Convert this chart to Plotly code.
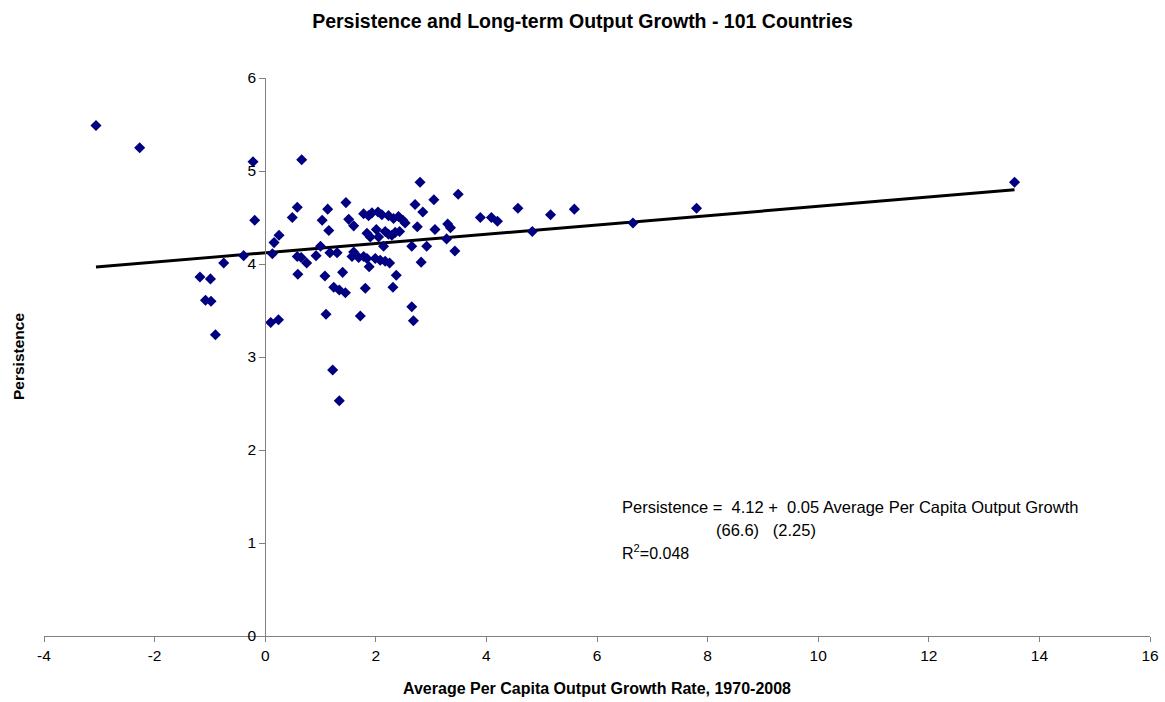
import plotly.graph_objects as go

# Average per capita output growth rate, 1970-2008 (x) and persistence (y)
growth = [-3.06, -2.27, -0.22, -0.19, -0.39, -0.75, -1.18, -0.99, -1.08, -0.98,
          -0.90, 0.10, 0.24, 0.66, 0.58, 0.49, 0.25, 0.16, 0.13, 0.58,
          0.65, 0.75, 0.59, 1.13, 1.03, 1.15, 1.46, 1.51, 1.60, 1.00,
          0.92, 1.17, 1.30, 1.08, 1.40, 1.24, 1.34, 1.45, 1.81, 1.60,
          1.57, 1.69, 1.10, 1.72, 1.22, 1.34, 1.78, 1.87, 2.04, 2.11,
          2.23, 2.32, 2.41, 2.49, 2.53, 1.84, 1.90, 2.01, 2.05, 2.17,
          2.23, 2.29, 2.35, 2.43, 2.14, 1.78, 1.84, 1.99, 2.08, 2.17,
          2.25, 1.88, 2.37, 2.31, 2.80, 2.71, 2.85, 2.75, 2.65, 2.92,
          2.82, 3.49, 3.05, 3.30, 3.35, 3.07, 3.28, 3.43, 3.89, 4.09,
          4.20, 2.65, 2.68, 4.57, 4.83, 5.16, 5.59, 6.65, 7.80, 13.55,
          1.93]
persistence = [5.49, 5.25, 5.10, 4.47, 4.09, 4.01, 3.86, 3.84, 3.61, 3.60,
               3.24, 3.37, 3.40, 5.12, 4.61, 4.50, 4.31, 4.23, 4.11, 4.08,
               4.07, 4.01, 3.89, 4.59, 4.47, 4.36, 4.66, 4.48, 4.41, 4.19,
               4.09, 4.12, 4.12, 3.87, 3.91, 3.75, 3.72, 3.69, 3.74, 4.13,
               4.08, 4.07, 3.46, 3.44, 2.86, 2.53, 4.54, 4.52, 4.56, 4.53,
               4.52, 4.49, 4.51, 4.47, 4.44, 4.33, 4.29, 4.37, 4.29, 4.35,
               4.32, 4.31, 4.34, 4.35, 4.19, 4.08, 4.06, 4.06, 4.04, 4.03,
               4.01, 3.97, 3.88, 3.75, 4.88, 4.64, 4.56, 4.40, 4.19, 4.19,
               4.02, 4.75, 4.69, 4.43, 4.39, 4.37, 4.27, 4.14, 4.50, 4.50,
               4.46, 3.54, 3.39, 4.60, 4.35, 4.53, 4.59, 4.44, 4.60, 4.88,
               4.55]

# Reported regression
trend_intercept = 4.12
trend_slope = 0.05

x_tickvals = [-4, -2, 0, 2, 4, 6, 8, 10, 12, 14, 16]
x_ticktext = ["-4", "-2", "0", "2", "4", "6", "8", "10", "12", "14", "16"]
y_tickvals = [0, 1, 2, 3, 4, 5, 6]

xmin, xmax = min(growth), max(growth)
trend_x = [xmin, xmax]
trend_y = [trend_intercept + trend_slope * v for v in trend_x]

FONT = "Liberation Sans, Arial, sans-serif"
TXT = 15.5

fig = go.Figure()
fig.add_trace(go.Scatter(
    x=trend_x, y=trend_y, mode="lines",
    line=dict(color="black", width=3), hoverinfo="skip", showlegend=False))
fig.add_trace(go.Scatter(
    x=growth, y=persistence, mode="markers",
    marker=dict(symbol="diamond", size=8.5, color="#000080",
                line=dict(width=0)),
    showlegend=False))

fig.update_layout(
    width=1165, height=702,
    margin=dict(l=44, r=15, t=78, b=66, autoexpand=False),
    paper_bgcolor="white", plot_bgcolor="white",
    font=dict(family=FONT, size=TXT, color="black"),
    title=dict(text="<b>Persistence and Long-term Output Growth - 101 Countries</b>",
               x=0.5, xanchor="center", xref="container",
               y=1 - 21 / 702, yanchor="middle", yref="container",
               font=dict(family=FONT, size=19.5, color="black")),
    xaxis=dict(range=[-4, 16], tickvals=x_tickvals, ticktext=x_ticktext,
               showgrid=False, zeroline=False, automargin=False,
               showline=True, linecolor="#808080", linewidth=1,
               ticks="outside", ticklen=5, tickcolor="#808080",
               tickfont=dict(family=FONT, size=TXT, color="black")),
    yaxis=dict(range=[0, 6], tickvals=y_tickvals, showgrid=False, zeroline=False,
               automargin=False,
               showline=True, linecolor="#808080", linewidth=1,
               ticks="outside", ticklen=6, tickcolor="#808080",
               anchor="free", position=0.2,
               tickfont=dict(family=FONT, size=TXT, color="black")),
)

annots = [
    dict(text="<b>Average Per Capita Output Growth Rate, 1970-2008</b>",
         xref="paper", yref="paper", x=0.5, y=0, yshift=-52,
         xanchor="center", yanchor="middle", showarrow=False,
         font=dict(family=FONT, size=16)),
    dict(text="<b>Persistence</b>", textangle=-90,
         xref="paper", yref="paper", x=0, y=0.5, xshift=-26,
         xanchor="center", yanchor="middle", showarrow=False,
         font=dict(family=FONT, size=15.5)),
    dict(text="Persistence =  4.12 +  0.05 Average Per Capita Output Growth",
         xref="x", yref="y", x=6.42, y=1.387, xanchor="left", yanchor="middle",
         showarrow=False, font=dict(family=FONT, size=16.5)),
    dict(text="(66.6)   (2.25)",
         xref="x", yref="y", x=8.12, y=1.14, xanchor="left", yanchor="middle",
         showarrow=False, font=dict(family=FONT, size=16.5)),
    dict(text="R<sup>2</sup>=0.048",
         xref="x", yref="y", x=6.42, y=0.90, xanchor="left", yanchor="middle",
         showarrow=False, font=dict(family=FONT, size=16)),
]
fig.update_layout(annotations=annots)

fig.write_html("out.html", config={"displayModeBar": False},
               post_script="document.body.style.margin='0px';")
